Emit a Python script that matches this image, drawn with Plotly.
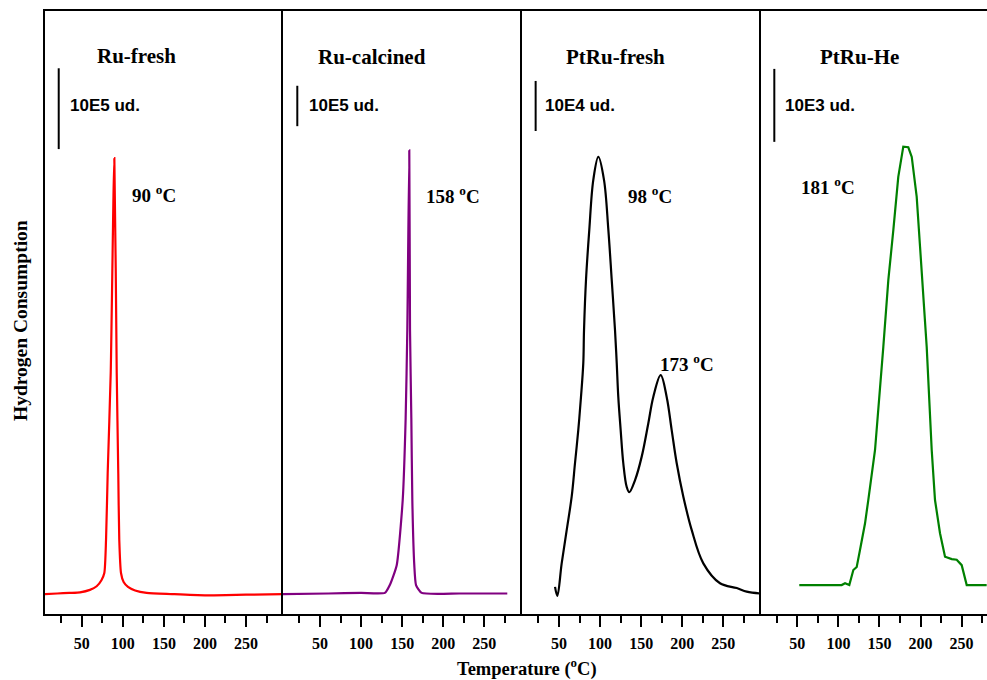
import plotly.graph_objects as go

# ---------------- data (temperature in °C, signal in arbitrary units) ----------------
panel_titles = ["Ru-fresh", "Ru-calcined", "PtRu-fresh", "PtRu-He"]
scale_labels = ["10E5 ud.", "10E5 ud.", "10E4 ud.", "10E3 ud."]
line_colors = ["#ff0000", "#800080", "#000000", "#008000"]

ru_fresh_T = [5, 20, 35, 48, 60, 68.2, 74, 77.5, 79.6, 81.6, 85.3, 89.7,
              92.6, 94.5, 95.7, 97.8, 101, 106.3, 115, 129, 160, 200, 250, 295]
ru_fresh_v = [3.3, 3.4, 3.5, 3.6, 4.0, 4.6, 5.6, 6.8, 12.3, 23.3, 40, 75.6,
              40, 23.3, 12.3, 6.8, 5.3, 4.5, 3.9, 3.5, 3.3, 3.1, 3.2, 3.3]

ru_calc_T = [5, 60, 100, 129, 135, 143.4, 150.7, 154.3, 156.3, 158.7,
             159.6, 161.2, 162.4, 164.8, 166.9, 173.8, 220, 278]
ru_calc_v = [3.3, 3.4, 3.5, 3.5, 4.8, 8.1, 18.9, 32.5, 47.1, 76.9,
             47.1, 32.5, 18.9, 8.1, 4.8, 3.5, 3.4, 3.4]

ptru_fresh_T = [45.2, 48.0, 53.3, 59.4, 65.5, 69.5, 73.5, 76.8, 79.6, 80.5, 82.9, 86.9,
                91.8, 97.9, 104.8, 110.1, 114.2, 118.2, 120.3, 122.2, 125.1, 128.3,
                132.4, 135.6, 142.6, 150.7, 158.7, 164.8, 173.8, 181.1, 187.2, 193.3,
                201.3, 211.6, 225.7, 246.0, 266.4, 278.5, 294.7]
ptru_fresh_v = [4.5, 3.0, 8.4, 13.9, 19.5, 25.0, 30.5, 36.0, 41.6, 47.1, 55.4, 63.7,
                72.0, 75.8, 72.0, 63.7, 55.4, 47.1, 41.6, 36.0, 30.5, 25.0,
                21.1, 20.2, 22.2, 26.1, 31.6, 36.0, 39.6, 36.0, 30.5, 25.0,
                19.5, 13.9, 8.4, 5.1, 4.3, 3.7, 3.4]

ptru_he_T = [52.4, 104.0, 108.1, 113.3, 118.2, 122.3, 126.3, 132.4, 136.4, 140.6, 144.6,
             154.7, 160.8, 166.9, 172.9, 179.0, 185.1, 189.3, 195.3, 199.4, 203.4,
             207.5, 213.6, 217.6, 223.7, 229.8, 238.0, 244.0, 250.1, 256.2, 280.5]
ptru_he_v = [4.8, 4.8, 5.1, 4.8, 7.3, 7.8, 10.6, 15.0, 18.9, 22.8, 27.2,
             44.3, 55.4, 63.7, 72.5, 77.5, 77.4, 75.8, 69.2, 60.9, 52.6,
             44.3, 27.2, 18.9, 13.4, 9.5, 9.1, 9.0, 8.1, 4.8, 4.8]

peak_labels = ["90 <sup>o</sup>C", "158 <sup>o</sup>C", "98 <sup>o</sup>C", "173 <sup>o</sup>C", "181 <sup>o</sup>C"]
peak_label_panel = [0, 1, 2, 2, 3]
peak_label_T = [108.8, 176.6, 131.6, 170.1, 52.4]
peak_label_v = [69.6, 69.5, 69.5, 41.6, 71.0]

major_ticks = [50, 100, 150, 200, 250]

# ---------------- layout geometry ----------------
W, H = 987, 680
ML, MR, MT, MB = 45, 0, 11, 66
PW = W - ML - MR
PH = H - MT - MB
panel_px = [(45, 283), (283, 522), (522, 761), (761, 987)]
x_ranges = [[5.3, 295], [5.0, 295.9], [5.0, 295.9], [5.8, 280.9]]
y_range = [0, 100]

# scale bars (data coords of each panel)
bar_T = [22.0, 22.4, 21.6, 22.0]
bar_v0 = [77.1, 80.9, 80.1, 78.3]
bar_v1 = [90.5, 87.6, 88.4, 90.4]
scale_label_T = [33.3, 33.8, 30.9, 33.0]
scale_label_v = 84.4

series_T = [ru_fresh_T, ru_calc_T, ptru_fresh_T, ptru_he_T]
series_v = [ru_fresh_v, ru_calc_v, ptru_fresh_v, ptru_he_v]
line_shapes = [("spline", 0.6), ("spline", 0.5), ("spline", 1.0), ("linear", 0)]

SERIF = "Liberation Serif"
SANS = "Liberation Sans"

fig = go.Figure()
for i in range(4):
    sfx = "" if i == 0 else str(i + 1)
    shp, sm = line_shapes[i]
    ln = dict(color=line_colors[i], width=2.2, shape=shp)
    if shp == "spline":
        ln["smoothing"] = sm
    fig.add_trace(go.Scatter(
        x=series_T[i], y=series_v[i], mode="lines", line=ln,
        xaxis="x" + sfx, yaxis="y" + sfx, hoverinfo="skip", showlegend=False))

layout = dict(
    width=W, height=H,
    margin=dict(l=ML, r=MR, t=MT, b=MB, pad=0),
    paper_bgcolor="white", plot_bgcolor="white",
    showlegend=False,
)

shapes = []
annotations = []
for i in range(4):
    sfx = "" if i == 0 else str(i + 1)
    d0 = (panel_px[i][0] - ML) / PW
    d1 = (panel_px[i][1] - ML) / PW
    layout["xaxis" + sfx] = dict(
        domain=[d0, min(d1, 1.0)], range=x_ranges[i], anchor="y" + sfx,
        showgrid=False, zeroline=False,
        showline=True, linecolor="black", linewidth=2, mirror=True,
        ticks="outside", ticklen=11, tickwidth=2, tickcolor="black",
        tickvals=major_ticks, ticktext=[str(t) for t in major_ticks],
        tickfont=dict(family=SERIF, size=16, color="black", weight="bold"),
        ticklabelstandoff=3,
        minor=dict(ticks="outside", ticklen=7, tickwidth=2, tickcolor="black",
                   tick0=25, dtick=50, showgrid=False),
    )
    layout["yaxis" + sfx] = dict(
        domain=[0, 1], range=y_range, anchor="x" + sfx,
        showgrid=False, zeroline=False, showticklabels=False, ticks="",
        showline=True, linecolor="black", linewidth=2, mirror=False,
    )
    xr = "x" + sfx
    yr = "y" + sfx
    shapes.append(dict(type="line", xref=xr, yref=yr,
                       x0=bar_T[i], x1=bar_T[i], y0=bar_v0[i], y1=bar_v1[i],
                       line=dict(color="black", width=2)))
    annotations.append(dict(xref=xr, yref=yr, x=scale_label_T[i], y=scale_label_v,
                            text=scale_labels[i], showarrow=False,
                            xanchor="left", yanchor="middle",
                            font=dict(family=SANS, size=17, color="black", weight="bold")))

title_cx = [136, 372, 615, 859]
title_cy = [56, 57, 57, 57]
for i in range(4):
    annotations.append(dict(xref="paper", yref="paper",
                            x=(title_cx[i] - ML) / PW, y=(H - MB - title_cy[i]) / PH,
                            text=panel_titles[i], showarrow=False,
                            xanchor="center", yanchor="middle",
                            font=dict(family=SERIF, size=21, color="black", weight="bold")))

for k in range(len(peak_labels)):
    p = peak_label_panel[k]
    sfx = "" if p == 0 else str(p + 1)
    annotations.append(dict(xref="x" + sfx, yref="y" + sfx,
                            x=peak_label_T[k], y=peak_label_v[k],
                            text=peak_labels[k], showarrow=False,
                            xanchor="left", yanchor="middle",
                            font=dict(family=SERIF, size=19, color="black", weight="bold")))

annotations.append(dict(xref="paper", yref="paper",
                        x=(527 - ML) / PW, y=(H - MB - 667) / PH,
                        text="Temperature (<sup>o</sup>C)", showarrow=False,
                        xanchor="center", yanchor="middle",
                        font=dict(family=SERIF, size=18.5, color="black", weight="bold")))
annotations.append(dict(xref="paper", yref="paper",
                        x=(20 - ML) / PW, y=(H - MB - 321) / PH,
                        text="Hydrogen Consumption", showarrow=False, textangle=-90,
                        xanchor="center", yanchor="middle",
                        font=dict(family=SERIF, size=19.5, color="black", weight="bold")))

layout["shapes"] = shapes
layout["annotations"] = annotations
fig.update_layout(**layout)
fig.write_html("out.html")
